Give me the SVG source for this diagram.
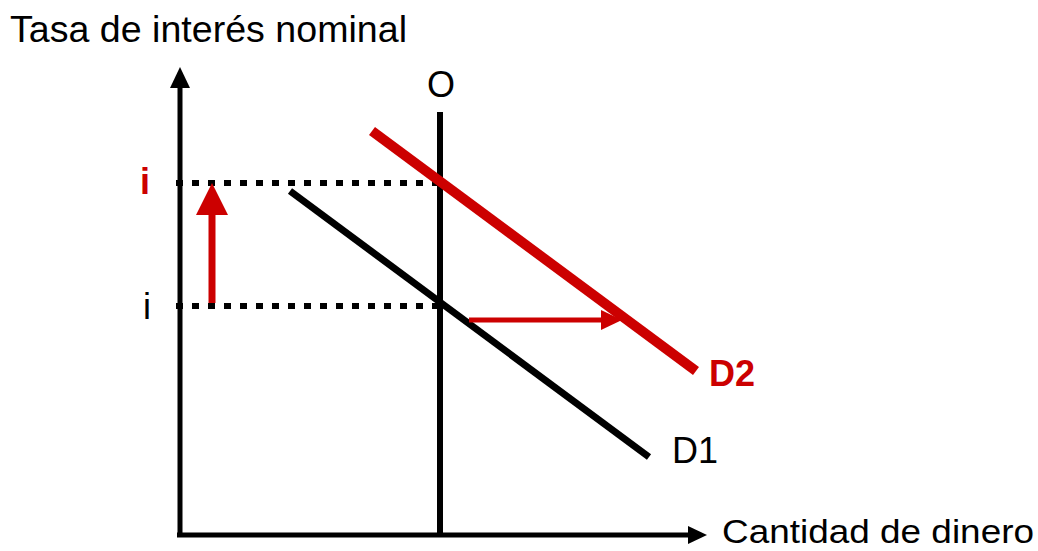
<svg xmlns="http://www.w3.org/2000/svg" width="1038" height="551" viewBox="0 0 1038 551">
<style>
text{font-family:"Liberation Sans",Arial,sans-serif;font-size:36px;fill:#000}
.red{fill:#cc0000}
.dash{stroke:#000;stroke-width:6;stroke-dasharray:7 9;fill:none}
</style>
<rect width="1038" height="551" fill="#fff"/>
<g id="axes">
<line x1="180" y1="537" x2="180" y2="84" stroke="#000" stroke-width="5"/>
<polygon points="180,67 170,88 190,88" fill="#000"/>
<line x1="177" y1="535" x2="690" y2="535" stroke="#000" stroke-width="5"/>
<polygon points="707,535 688,526 688,544" fill="#000"/>
</g>
<g id="supply">
<line x1="440" y1="112" x2="440" y2="535" stroke="#000" stroke-width="6"/>
<text x="441" y="97" text-anchor="middle">O</text>
</g>
<g id="connectors">
<line class="dash" x1="176" y1="183" x2="440" y2="183"/>
<line class="dash" x1="176" y1="306" x2="440" y2="306"/>
<line x1="290" y1="191" x2="649" y2="457" stroke="#000" stroke-width="7"/>
<line x1="372" y1="131" x2="696" y2="371" stroke="#cc0000" stroke-width="10"/>
<line x1="212" y1="303" x2="212" y2="210" stroke="#cc0000" stroke-width="7"/>
<polygon points="212,183 196,215 228,215" fill="#cc0000"/>
<line x1="469" y1="320" x2="605" y2="320" stroke="#cc0000" stroke-width="5"/>
<polygon points="622,320 601,310 601,330" fill="#cc0000"/>
</g>
<g id="labels">
<text x="10" y="42" style="font-size:37px" textLength="397" lengthAdjust="spacingAndGlyphs">Tasa de interés nominal</text>
<text x="722" y="543" style="font-size:34px" textLength="312" lengthAdjust="spacingAndGlyphs">Cantidad de dinero</text>
<text class="red" x="140" y="194" font-weight="bold">i</text>
<text x="143" y="319">i</text>
<text class="red" x="709" y="386" font-weight="bold">D2</text>
<text x="672" y="463">D1</text>
</g>
</svg>
